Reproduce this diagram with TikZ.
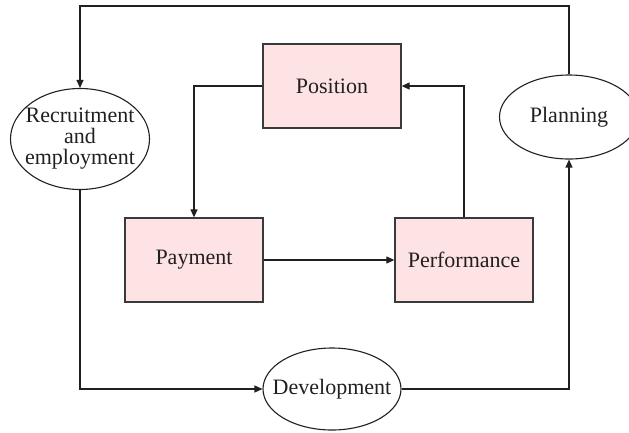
\documentclass[tikz,border=0pt]{standalone}
\usepackage{fontspec}
\setmainfont{Liberation Serif}
\usetikzlibrary{shapes.geometric,arrows.meta}
\definecolor{boxfill}{HTML}{FDE3E3}
\definecolor{linecol}{HTML}{3A3A3A}
\definecolor{txtcol}{HTML}{231F20}
\newcommand{\dfont}{\fontsize{22}{21}\selectfont}
\begin{document}
\begin{tikzpicture}[x=1pt,y=-1pt,
  every node/.style={font=\dfont, text=txtcol},
  box/.style={draw=linecol, line width=1.3pt, fill=boxfill, minimum width=138pt, minimum height=84pt, inner sep=0pt},
  ell/.style={draw=txtcol, line width=1.1pt, ellipse, inner sep=0pt},
  arr/.style={draw=txtcol, line width=1.2pt, -{Triangle[length=8pt,width=7pt]}},
  lbl/.style={font=\dfont, text=txtcol, align=center}]
\useasboundingbox (0,0) rectangle (629,432);
\node[box] (pos) at (332,86) {Position};
\node[box] (pay) at (194,260) {Payment};
\node[box] (perf) at (464,260) {Performance};
\node[ell, minimum width=139pt, minimum height=101pt,
  label={[lbl]center:Recruitment\\and\\employment}] (rec) at (80,139) {};
\node[ell, minimum width=139pt, minimum height=84pt,
  label={[lbl]center:Planning}] (plan) at (569,117) {};
\node[ell, minimum width=138pt, minimum height=82pt,
  label={[lbl]center:Development}] (dev) at (332,389) {};
\coordinate (tr) at (569,6);
\coordinate (tl) at (80,6);
\draw[arr] (pos.west) -| (pay.north);
\draw[arr] (perf.north) |- (pos.east);
\draw[arr] (pay.east) -- (perf.west);
\draw[arr] (rec.south) |- (dev.west);
\draw[arr] (dev.east) -| (plan.south);
\draw[arr] (plan.north) -- (tr) -- (tl) -- (rec.north);
\end{tikzpicture}
\end{document}
